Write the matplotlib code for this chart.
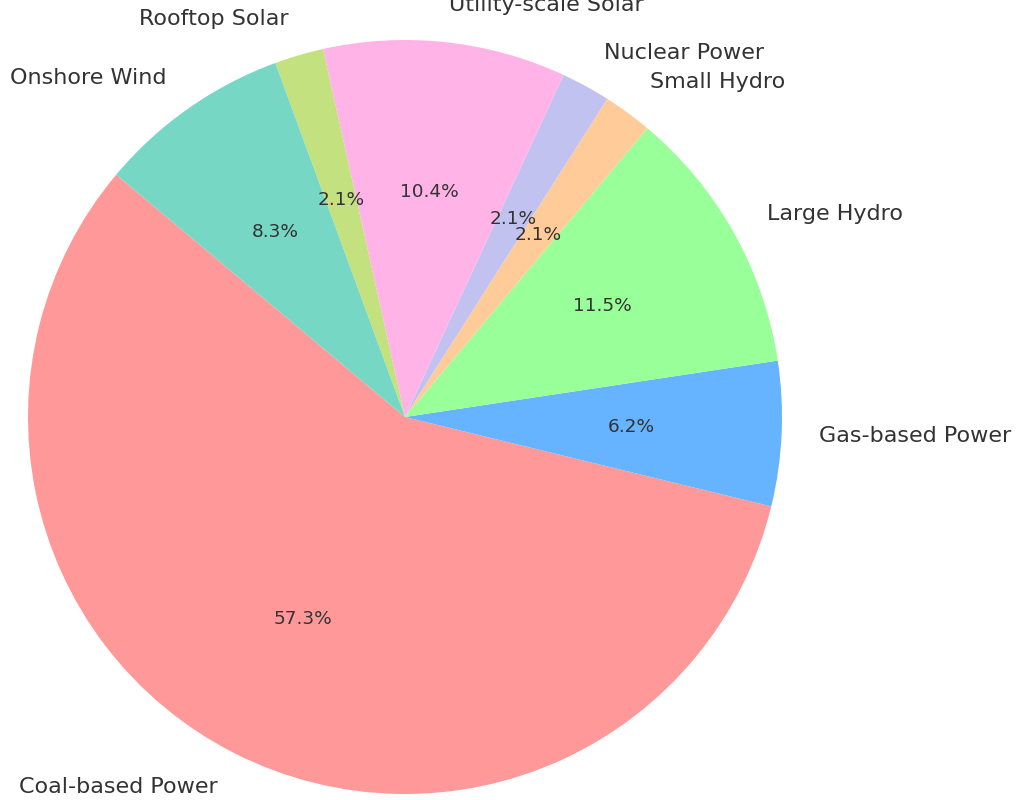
import matplotlib.pyplot as plt

# installed capacity share by source
sources = ["Coal-based Power", "Gas-based Power", "Large Hydro", "Small Hydro",
           "Nuclear Power", "Utility-scale Solar", "Rooftop Solar", "Onshore Wind"]
shares = [57.3, 6.2, 11.5, 2.1, 2.1, 10.4, 2.1, 8.3]
colors = ["#ff9999", "#66b3ff", "#99ff99", "#ffcc99",
          "#c2c2f0", "#ffb3e6", "#c4e17f", "#76d7c4"]

W, H = 1023, 800
cx, cy, r = 405, 417, 377  # pie centre and radius in pixels

fig = plt.figure(figsize=(W / 100, H / 100), dpi=100)
ax = fig.add_axes([0, 0, 1, 1])

wedges, texts, autotexts = ax.pie(shares, labels=sources, colors=colors,
                                  autopct="%1.1f%%", startangle=140,
                                  textprops={"color": "#333333"})
for t in texts:
    t.set_fontsize(16)
for t in autotexts:
    t.set_fontsize(13.3)

ax.set_aspect("equal")
ax.set_xlim(-cx / r, (W - cx) / r)
ax.set_ylim(-(H - cy) / r, cy / r)
ax.axis("off")

fig.savefig("out.png", dpi=100)
